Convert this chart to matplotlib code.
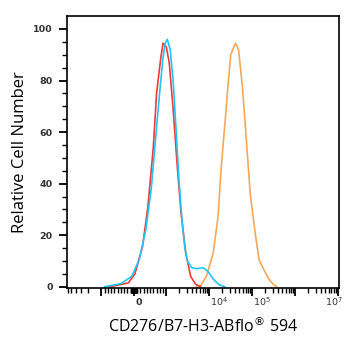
import matplotlib
matplotlib.use("Agg")
import matplotlib.pyplot as plt
import matplotlib.transforms as mtransforms
from matplotlib.ticker import FixedLocator, NullFormatter

# isotype control (red)
red_x = [-733, -167, 33, 267, 433, 600, 700, 833, 900, 1000, 1170, 1443,
         1778, 2193, 2848, 3698, 4807, 6240]
red_y = [0, 1.5, 5, 15.5, 31, 54, 75, 89, 94.5, 93, 87, 69, 48, 29, 13, 4, 1, 0]

# blank (cyan)
cyan_x = [-900, -400, -67, 167, 367, 533, 667, 800, 900, 967, 1054, 1233,
          1443, 1687, 1973, 2310, 2704, 3162, 3900, 5063, 7310, 9480,
          12330, 16870, 23100]
cyan_y = [0, 1.2, 4, 10.5, 22, 37.6, 57, 76, 89, 94.5, 96, 92, 80, 61, 41.5,
          26, 15, 9.7, 7.4, 7, 7.4, 5.8, 3, 0.8, 0]

# CD276 stained (orange)
orange_x = [5063, 6240, 8550, 12330, 16010, 18740, 23100, 27040, 31620,
            39000, 41100, 48070, 59290, 73100, 90100, 117000, 144300,
            187400, 243000, 316200, 369800]
orange_y = [0, 0.3, 4, 13, 27, 45, 63, 77, 90, 93.8, 94.5, 92, 77.5, 57, 36,
            21, 10.5, 6.6, 3, 0.8, 0]

major_vals = [-1e3, 0, 1e3, 1e4, 1e5, 1e6, 1e7]
label_vals = [0, 1e4, 1e5, 1e7]
label_text = ["0", "$10^4$", "$10^5$", "$10^7$"]
label_shift = [5, 10, 10, -4]  # px, labels sit a bit off their ticks

minor_vals = []
for d in [10, 100, 1000, 10000, 100000, 1000000]:
    for k in range(2, 10):
        minor_vals.append(k * d)
        if k * d < 7000:
            minor_vals.append(-k * d)
minor_vals += [10, 100, -10, -100]

fig = plt.figure(figsize=(3.55, 3.5), dpi=100)
ax = fig.add_axes([0.188, 0.177, 0.767, 0.777])

ax.plot(orange_x, orange_y, color="#f5a85a", lw=1.2)
ax.plot(red_x, red_y, color="#f03a3a", lw=1.2)
ax.plot(cyan_x, cyan_y, color="#1fc6f2", lw=1.2)

ax.set_xscale("symlog", linthresh=1000, linscale=0.68)
ax.set_xlim(-6400, 1.05e7)
ax.set_ylim(-0.5, 105)

ax.xaxis.set_major_locator(FixedLocator(major_vals))
ax.xaxis.set_major_formatter(NullFormatter())
ax.xaxis.set_minor_locator(FixedLocator(minor_vals))
ax.xaxis.set_minor_formatter(NullFormatter())

ax.set_yticks([0, 20, 40, 60, 80, 100])
ax.yaxis.set_minor_locator(FixedLocator(range(0, 101, 5)))

ax.tick_params(axis="both", which="major", length=6, width=1.3,
               labelsize=6.8, colors="black", labelcolor="#333333")
ax.tick_params(axis="both", which="minor", length=3.5, width=1.0)
ax.tick_params(axis="y", pad=4)
for lab in ax.get_yticklabels():
    lab.set_fontweight("bold")

trans = mtransforms.blended_transform_factory(ax.transData, ax.transAxes)
for v, t, dx in zip(label_vals, label_text, label_shift):
    tr = mtransforms.offset_copy(trans, fig=fig, x=dx, y=-14, units="dots")
    ax.text(v, 0, t, transform=tr, ha="center", va="center", fontsize=6.8,
            color="#333333", fontweight="bold")

for s in ax.spines.values():
    s.set_linewidth(1.2)

ax.set_ylabel("Relative Cell Number", fontsize=12, family="Open Sans", labelpad=4)
ax.set_xlabel("CD276/B7-H3-ABflo$^{®}$ 594", fontsize=11.5, family="Open Sans",
              labelpad=11)

fig.savefig("out.png", dpi=100)
